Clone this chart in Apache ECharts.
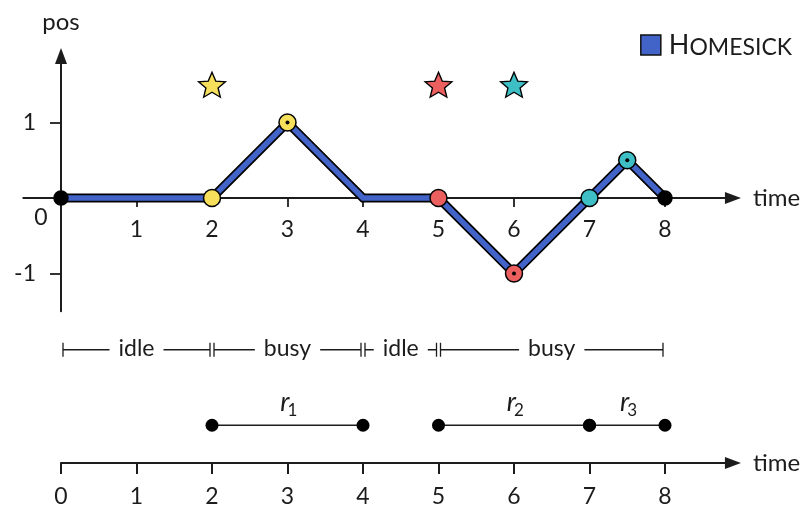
<!DOCTYPE html>
<html style="height: 100%">
<head>
<meta charset="utf-8">
<title></title>
<script type="text/javascript" src="https://cdn.jsdelivr.net/npm/echarts@6/dist/echarts.min.js"></script>
</head>
<body style="height: 100%; margin: 0">
<div id="container" style="width: 808px; height: 505px"></div>
<script type="text/javascript">
// path of the homesick process
var pathTime = [0, 2, 3, 4, 5, 6, 7, 7.5, 8];
var pathPos = [0, 0, 1, 0, 0, -1, 0, 0.5, 0];

// dots on the path (req 0 = plain black end point)
var dotTime = [0, 2, 3, 5, 6, 7, 7.5, 8];
var dotPos = [0, 0, 1, 0, -1, 0, 0.5, 0];
var dotReq = [0, 1, 1, 2, 2, 3, 3, 0];
var dotPeak = [false, false, true, false, true, false, true, false];

// request arrivals (stars)
var starTime = [2, 5, 6];
var starPos = [1.5, 1.5, 1.5];
var starReq = [1, 2, 3];

// idle / busy phases
var phaseName = ['idle', 'busy', 'idle', 'busy'];
var phaseStart = [0, 2, 4, 5];
var phaseEnd = [2, 4, 5, 8];

// requests r1..r3
var reqName = ['1', '2', '3'];
var reqStart = [2, 5, 7];
var reqEnd = [4, 7, 8];

var timeTicks = [1, 2, 3, 4, 5, 6, 7, 8];
var timeTicks2 = [0, 1, 2, 3, 4, 5, 6, 7, 8];
var posTicks = [-1, 1];

var FONT = 'Lato';
var INK = '#1c1c1c';
var BLUE = '#4264c9';
var reqColor = ['#000000', '#f5df5b', '#ec5f5f', '#3dbfc5'];

var K = 75.5; // px per unit
var X0 = 61, Y0 = 198; // origin of the upper plot
var PHASE_ROW = 3, REQ_ROW = 1;

function starPath() {
	var s = 'path://';
	for (var i = 0; i < 10; i++) {
		var r = i % 2 == 0 ? 1 : 0.45;
		var a = -Math.PI / 2 + i * Math.PI / 5;
		s += (i == 0 ? 'M' : 'L') + (r * Math.cos(a)).toFixed(3) + ' ' + (r * Math.sin(a)).toFixed(3);
	}
	return s + 'Z';
}

function pairs(xs, ys) {
	var out = [];
	for (var i = 0; i < xs.length; i++) out.push([xs[i], ys[i]]);
	return out;
}

var axisLineStyle = {color: INK, width: 1.8};

function renderPhase(params, api) {
	var a = api.coord([api.value(0), PHASE_ROW]);
	var b = api.coord([api.value(1), PHASE_ROW]);
	var x1 = a[0] + 2, x2 = b[0] - 2, y = a[1];
	var st = {stroke: INK, lineWidth: 1.3, fill: null};
	return {
		type: 'group',
		children: [
			{type: 'line', shape: {x1: x1, y1: y, x2: x2, y2: y}, style: st},
			{type: 'line', shape: {x1: x1, y1: y - 7, x2: x1, y2: y + 7}, style: st},
			{type: 'line', shape: {x1: x2, y1: y - 7, x2: x2, y2: y + 7}, style: st},
			{type: 'text', x: (x1 + x2) / 2, y: y - 1, style: {
				text: phaseName[params.dataIndex], fontSize: 23, fontFamily: FONT, fill: INK,
				align: 'center', verticalAlign: 'middle', backgroundColor: '#fff', padding: [0, 9]
			}}
		]
	};
}

function renderReq(params, api) {
	var a = api.coord([api.value(0), REQ_ROW]);
	var b = api.coord([api.value(1), REQ_ROW]);
	var y = a[1], mid = (a[0] + b[0]) / 2;
	return {
		type: 'group',
		children: [
			{type: 'line', shape: {x1: a[0], y1: y, x2: b[0], y2: y}, style: {stroke: INK, lineWidth: 1.5}},
			{type: 'circle', shape: {cx: a[0], cy: y, r: 6.5}, style: {fill: '#000'}},
			{type: 'circle', shape: {cx: b[0], cy: y, r: 6.5}, style: {fill: '#000'}},
			{type: 'text', x: mid + 2, y: y - 9, style: {
				text: 'r', fontSize: 27, fontStyle: 'italic', fontFamily: FONT, fill: INK,
				align: 'right', verticalAlign: 'bottom'
			}},
			{type: 'text', x: mid, y: y - 6.5, style: {
				text: reqName[params.dataIndex], fontSize: 17, fontFamily: FONT, fill: INK,
				align: 'left', verticalAlign: 'bottom'
			}}
		]
	};
}

function renderOrigin(params, api) {
	var p = api.coord([api.value(0), api.value(1)]);
	return {type: 'text', x: p[0] - 20, y: p[1] + 20, style: {
		text: '0', fontSize: 23, fontFamily: FONT, fill: INK, align: 'center', verticalAlign: 'middle'
	}};
}

var dom = document.getElementById('container');
var myChart = echarts.init(dom, null, {renderer: 'canvas'});

var option = {
	animation: false,
	backgroundColor: '#fff',
	textStyle: {fontFamily: FONT, color: INK},
	legend: {
		data: [{name: 'Homesick', icon: 'rect'}],
		right: 11, top: 27,
		itemWidth: 20, itemHeight: 20,
		itemStyle: {color: BLUE, borderColor: '#111', borderWidth: 1.5},
		selectedMode: false,
		formatter: function (name) {
			return '{a|' + name.charAt(0).toUpperCase() + '}{b|' + name.slice(1).toUpperCase() + '}';
		},
		textStyle: {
			padding: [0, 0, 0, 3],
			rich: {
				a: {fontSize: 27, fontFamily: FONT, color: INK, lineHeight: 28, verticalAlign: 'bottom'},
				b: {fontSize: 23, fontFamily: FONT, color: INK, lineHeight: 25, verticalAlign: 'bottom'}
			}
		}
	},
	grid: [
		{left: X0 - 0.5 * K, width: 9.4 * K, top: Y0 - 1.88 * K, height: 3.38 * K, outerBoundsMode: 'none'},
		{left: X0, width: 8.9 * K, top: 463 - 3.5 * K / 2, height: 3.5 * K / 2, outerBoundsMode: 'none'}
	],
	xAxis: [
		{
			type: 'value', gridIndex: 0, min: -0.5, max: 8.9, position: 'bottom',
			offset: -1.5 * K,
			axisLine: {onZero: false, symbol: ['none', 'triangle'], symbolSize: [12, 16], lineStyle: axisLineStyle},
			axisTick: {show: true, customValues: timeTicks, length: 9, lineStyle: axisLineStyle},
			axisLabel: {customValues: timeTicks, margin: 20, fontSize: 23, color: INK, fontFamily: FONT},
			splitLine: {show: false},
			name: 'time', nameLocation: 'end', nameGap: 20,
			nameTextStyle: {fontSize: 24, color: INK, fontFamily: FONT, align: 'left', verticalAlign: 'middle'}
		},
		{
			type: 'value', gridIndex: 1, min: 0, max: 8.9,
			axisLine: {onZero: false, symbol: ['none', 'triangle'], symbolSize: [12, 16], lineStyle: {color: INK, width: 2.2}},
			axisTick: {show: true, customValues: timeTicks2, length: 11, lineStyle: {color: INK, width: 2}},
			axisLabel: {customValues: timeTicks2, margin: 22, fontSize: 23, color: INK, fontFamily: FONT},
			splitLine: {show: false},
			name: 'time', nameLocation: 'end', nameGap: 20,
			nameTextStyle: {fontSize: 24, color: INK, fontFamily: FONT, align: 'left', verticalAlign: 'middle'}
		}
	],
	yAxis: [
		{
			type: 'value', gridIndex: 0, min: -1.5, max: 1.88, position: 'left',
			offset: -0.5 * K,
			axisLine: {onZero: false, symbol: ['none', 'triangle'], symbolSize: [12, 16], lineStyle: {color: INK, width: 2}},
			axisTick: {show: true, customValues: posTicks, length: 11, lineStyle: axisLineStyle},
			axisLabel: {customValues: posTicks, margin: 25, fontSize: 23, color: INK, fontFamily: FONT},
			splitLine: {show: false},
			name: 'pos', nameLocation: 'end', nameGap: 22,
			nameTextStyle: {fontSize: 24, color: INK, fontFamily: FONT, align: 'center', verticalAlign: 'bottom'}
		},
		{type: 'value', gridIndex: 1, min: 0, max: 3.5, show: false}
	],
	series: [
		{
			name: 'outline', type: 'line', xAxisIndex: 0, yAxisIndex: 0, z: 2,
			data: pairs(pathTime, pathPos), showSymbol: false, silent: true,
			lineStyle: {color: '#000', width: 9, join: 'miter'}
		},
		{
			name: 'Homesick', type: 'line', xAxisIndex: 0, yAxisIndex: 0, z: 3,
			data: pairs(pathTime, pathPos), showSymbol: false, silent: true,
			color: BLUE,
			lineStyle: {color: BLUE, width: 5.6, join: 'miter'}
		},
		{
			name: 'dots', type: 'scatter', xAxisIndex: 0, yAxisIndex: 0, z: 4, silent: true,
			data: pairs(dotTime, dotPos),
			symbolSize: function (v, p) { return dotReq[p.dataIndex] == 0 ? 14 : 17; },
			itemStyle: {
				color: function (p) { return reqColor[dotReq[p.dataIndex]]; },
				borderColor: '#000', borderWidth: 1.5, opacity: 1
			}
		},
		{
			name: 'peaks', type: 'scatter', xAxisIndex: 0, yAxisIndex: 0, z: 5, silent: true,
			data: pairs(dotTime, dotPos).filter(function (d, i) { return dotPeak[i]; }),
			symbolSize: 4, itemStyle: {color: '#000', opacity: 1}
		},
		{
			name: 'stars', type: 'scatter', xAxisIndex: 0, yAxisIndex: 0, z: 4, silent: true,
			data: pairs(starTime, starPos),
			symbol: starPath(), symbolSize: [27, 25],
			itemStyle: {
				color: function (p) { return reqColor[starReq[p.dataIndex]]; },
				borderColor: '#000', borderWidth: 1.3, opacity: 1
			}
		},
		{
			name: 'origin', type: 'custom', xAxisIndex: 0, yAxisIndex: 0, silent: true,
			data: [[0, 0]], renderItem: renderOrigin, clip: false
		},
		{
			name: 'phases', type: 'custom', xAxisIndex: 1, yAxisIndex: 1, silent: true,
			data: pairs(phaseStart, phaseEnd), renderItem: renderPhase, clip: false
		},
		{
			name: 'requests', type: 'custom', xAxisIndex: 1, yAxisIndex: 1, silent: true,
			data: pairs(reqStart, reqEnd), renderItem: renderReq, clip: false
		}
	]
};

myChart.setOption(option);
</script>
</body>
</html>
